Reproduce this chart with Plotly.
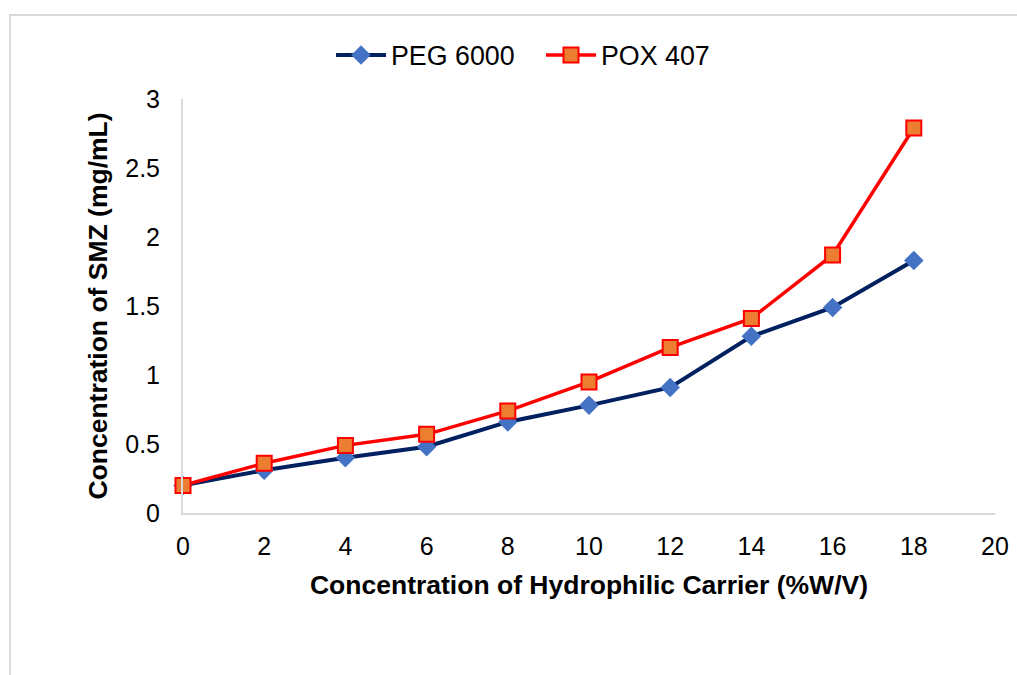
import plotly.graph_objects as go

x_vals = [0, 2, 4, 6, 8, 10, 12, 14, 16, 18]
peg_6000 = [0.20, 0.31, 0.40, 0.48, 0.66, 0.78, 0.91, 1.28, 1.49, 1.83]
pox_407 = [0.20, 0.36, 0.49, 0.57, 0.74, 0.95, 1.20, 1.41, 1.87, 2.79]
x_ticks = [0, 2, 4, 6, 8, 10, 12, 14, 16, 18, 20]
y_ticks = [0, 0.5, 1, 1.5, 2, 2.5, 3]
y_ticklabels = ["0", "0.5", "1", "1.5", "2", "2.5", "3"]

fig = go.Figure()
fig.add_trace(go.Scatter(
    x=x_vals, y=peg_6000, name="PEG 6000", mode="lines+markers",
    line=dict(color="#002060", width=4),
    marker=dict(symbol="diamond", size=15, color="#4472c4", line=dict(width=0)),
    cliponaxis=False,
))
fig.add_trace(go.Scatter(
    x=x_vals, y=pox_407, name="POX 407", mode="lines+markers",
    line=dict(color="#ff0000", width=3.5),
    marker=dict(symbol="square", size=15, color="#ed7d31", line=dict(color="#ff0000", width=2)),
    cliponaxis=False,
))

L, R, T, B = 183, 22, 99, 162
W, H = 1017, 675
pw, ph = W - L - R, H - T - B

fig.update_layout(
    width=W, height=H,
    margin=dict(l=L, r=R, t=T, b=B, autoexpand=False),
    paper_bgcolor="white", plot_bgcolor="white",
    font=dict(family="Liberation Sans, Arial, sans-serif", size=25, color="black"),
    showlegend=True,
    legend=dict(orientation="h", xref="container", yref="container",
                x=331 / W, xanchor="left", y=1 - 55 / H, yanchor="middle",
                font=dict(size=26.8), bgcolor="rgba(0,0,0,0)", itemwidth=50,
                entrywidth=145, entrywidthmode="pixels"),
    xaxis=dict(range=[0, 20], tickvals=x_ticks, showgrid=False, zeroline=False,
               showline=True, linecolor="#d9d9d9", linewidth=2, ticks="",
               automargin=False, ticklabelstandoff=10,
               title=dict(text="<b>Concentration of Hydrophilic Carrier (%W/V)</b>",
                          font=dict(size=26.5), standoff=16)),
    yaxis=dict(range=[0, 3], tickvals=y_ticks, ticktext=y_ticklabels, showgrid=False,
               zeroline=False, showline=True, linecolor="#d9d9d9", linewidth=2, ticks="",
               automargin=False, ticklabelstandoff=16,
               title=dict(text="<b>Concentration of SMZ (mg/mL)</b>",
                          font=dict(size=26.5), standoff=10)),
    shapes=[dict(type="rect", xref="paper", yref="paper",
                 x0=(10 - L) / pw, x1=(1040 - L) / pw,
                 y0=(H - B - 690) / ph, y1=(H - B - 15) / ph,
                 line=dict(color="#d9d9d9", width=2), fillcolor="rgba(0,0,0,0)",
                 layer="below")],
)

fig.write_html("out.html", config={"displayModeBar": False},
               post_script="document.body.style.margin='0';")
